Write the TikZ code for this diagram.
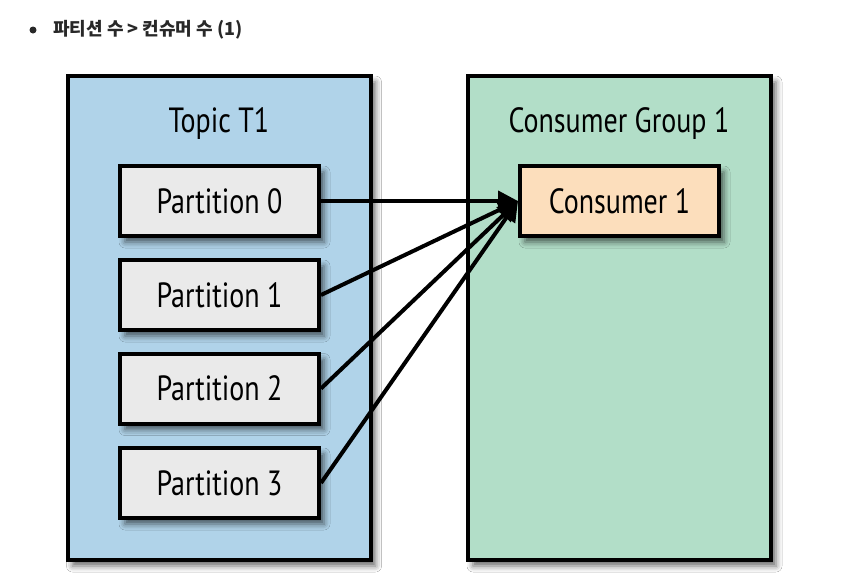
\documentclass[tikz,border=0pt]{standalone}
\usepackage{fontspec}
\setmainfont{PT Sans}
\newfontfamily\cond[FakeStretch=0.8]{PT Sans}
\newfontfamily\kr{Noto Sans CJK KR}
\usetikzlibrary{shadows.blur,arrows.meta}
\definecolor{topicblue}{RGB}{176,211,233}
\definecolor{groupgreen}{RGB}{178,222,200}
\definecolor{partgray}{RGB}{234,234,234}
\definecolor{conspeach}{RGB}{252,222,188}
\definecolor{headgray}{RGB}{40,40,40}
\tikzset{
  shadowed/.style={blur shadow={shadow xshift=5pt,shadow yshift=-6pt,shadow blur radius=6pt,shadow opacity=60}},
  outerbox/.style={draw=black,line width=4pt,rectangle,inner sep=0pt,minimum width=303pt,minimum height=484pt,shadowed},
  innerbox/.style={draw=black,line width=4pt,rectangle,inner sep=0pt,minimum width=199pt,minimum height=70pt,font=\cond\fontsize{35}{40}\selectfont,shadowed},
  titletext/.style={font=\cond\fontsize{35}{40}\selectfont,inner sep=0pt},
  flow/.style={draw=black,line width=4pt,-{Triangle[length=20pt,width=20pt]}}
}
\begin{document}
\begin{tikzpicture}[x=1pt,y=-1pt]
\useasboundingbox[fill=white] (0,0) rectangle (844,587);
% heading
\fill[headgray] (33,30) circle (3.5);
\node[anchor=west,inner sep=0pt,text=headgray,font=\kr\bfseries\fontsize{18}{22}\selectfont] (head) at (53,30) {파티션 수 > 컨슈머 수 (1)};
% outer boxes
\node[outerbox,fill=topicblue] (topic) at (219,318) {};
\node[outerbox,fill=groupgreen] (group) at (619.5,318) {};
\node[titletext] (topictitle) at (219,124) {Topic T1};
\node[titletext] (grouptitle) at (619,124) {Consumer Group 1};
% partitions
\node[innerbox,fill=partgray] (p0) at (219.5,201) {Partition 0};
\node[innerbox,fill=partgray] (p1) at (219.5,295) {Partition 1};
\node[innerbox,fill=partgray] (p2) at (219.5,388.5) {Partition 2};
\node[innerbox,fill=partgray] (p3) at (219.5,483) {Partition 3};
% consumer
\node[innerbox,fill=conspeach] (c1) at (619.5,201) {Consumer 1};
% arrows
\draw[flow] (p0.east) -- (c1.west);
\draw[flow] (p1.east) -- (c1.west);
\draw[flow] (p2.east) -- (c1.west);
\draw[flow] (p3.east) -- (c1.west);
\end{tikzpicture}
\end{document}
